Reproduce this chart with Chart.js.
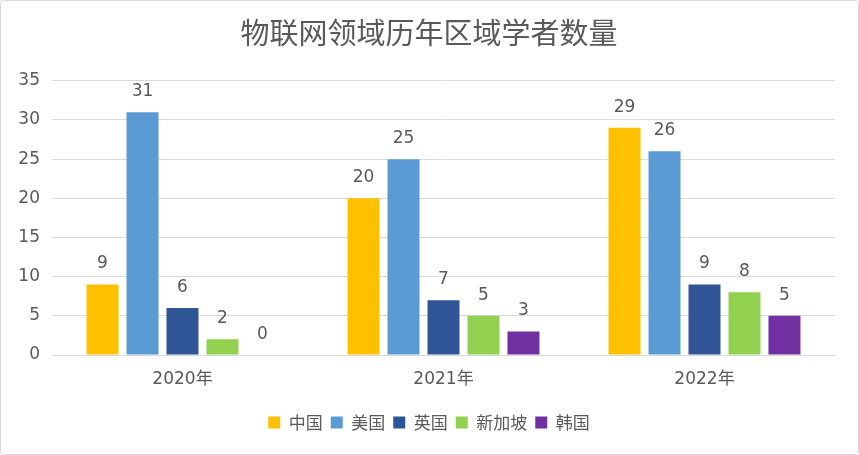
<!DOCTYPE html>
<html>
<head>
<meta charset="utf-8">
<script src="https://cdn.jsdelivr.net/npm/chart.js@4"></script>
<style>
  html, body { margin: 0; padding: 0; background: #fff; }
  #wrap { width: 857px; height: 453px; border: 1px solid #d9d9d9; border-radius: 4px; position: relative; }
</style>
</head>
<body>
<div id="wrap"><canvas id="chart"></canvas></div>
<script>
// chart data
const categories = ['2020年', '2021年', '2022年'];
const seriesNames = ['中国', '美国', '英国', '新加坡', '韩国'];
const china = [9, 20, 29];
const usa = [31, 25, 26];
const uk = [6, 7, 9];
const singapore = [2, 5, 8];
const korea = [0, 3, 5];
const yTicks = [0, 5, 10, 15, 20, 25, 30, 35];

const colors = ['#FFC000', '#5B9BD5', '#2F5597', '#92D050', '#7030A0'];
const fontFamily = "'DejaVu Sans', 'Noto Sans CJK SC', sans-serif";
const textColor = '#595959';

// value labels above the bars
const barLabels = {
    id: 'barLabels',
    afterDatasetsDraw(chart) {
        const ctx = chart.ctx;
        ctx.save();
        ctx.font = '17px ' + fontFamily;
        ctx.fillStyle = textColor;
        ctx.textAlign = 'center';
        ctx.textBaseline = 'alphabetic';
        chart.data.datasets.forEach((ds, i) => {
            chart.getDatasetMeta(i).data.forEach((bar, j) => {
                ctx.fillText(String(ds.data[j]), bar.x, bar.y - 16);
            });
        });
        ctx.restore();
    }
};

// title and legend are centred on the whole canvas, not on the padded area
const centreBoxes = {
    id: 'centreBoxes',
    afterLayout(chart) {
        const shift = 11;
        [chart.titleBlock, chart.legend].forEach(box => {
            if (!box) return;
            box.left += shift;
            box.right += shift;
        });
    }
};

const seriesData = [china, usa, uk, singapore, korea];

new Chart(document.getElementById('chart'), {
    type: 'bar',
    data: {
        labels: categories,
        datasets: seriesNames.map((name, i) => ({
            label: name,
            data: seriesData[i],
            backgroundColor: colors[i],
            borderWidth: 0,
            categoryPercentage: 0.766,
            barPercentage: 0.8
        }))
    },
    options: {
        responsive: true,
        maintainAspectRatio: false,
        animation: false,
        layout: {
            padding: { left: 0, right: 23, top: 0, bottom: 13 }
        },
        scales: {
            x: {
                grid: { display: false, drawTicks: false },
                border: { display: true, color: '#d9d9d9', width: 1 },
                ticks: {
                    color: textColor,
                    font: { family: fontFamily, size: 17 },
                    padding: 14
                },
                afterFit(axis) { axis.height = 51; }
            },
            y: {
                min: 0,
                max: 35,
                afterBuildTicks(axis) {
                    axis.ticks = yTicks.map(v => ({ value: v }));
                },
                grid: { color: '#d9d9d9', lineWidth: 1, drawTicks: false },
                border: { display: false },
                ticks: {
                    color: textColor,
                    font: { family: fontFamily, size: 17 },
                    padding: 12
                },
                afterFit(axis) { axis.width = 51; }
            }
        },
        plugins: {
            title: {
                display: true,
                text: '物联网领域历年区域学者数量',
                color: textColor,
                font: { family: "'Noto Sans CJK SC', sans-serif", size: 29, weight: 'normal' },
                padding: { top: 15, bottom: 30 }
            },
            legend: {
                position: 'bottom',
                labels: {
                    color: textColor,
                    font: { family: "'Noto Sans CJK SC', sans-serif", size: 17 },
                    boxWidth: 12,
                    boxHeight: 12,
                    padding: 8
                }
            },
            tooltip: { enabled: false }
        }
    },
    plugins: [barLabels, centreBoxes]
});
</script>
</body>
</html>
